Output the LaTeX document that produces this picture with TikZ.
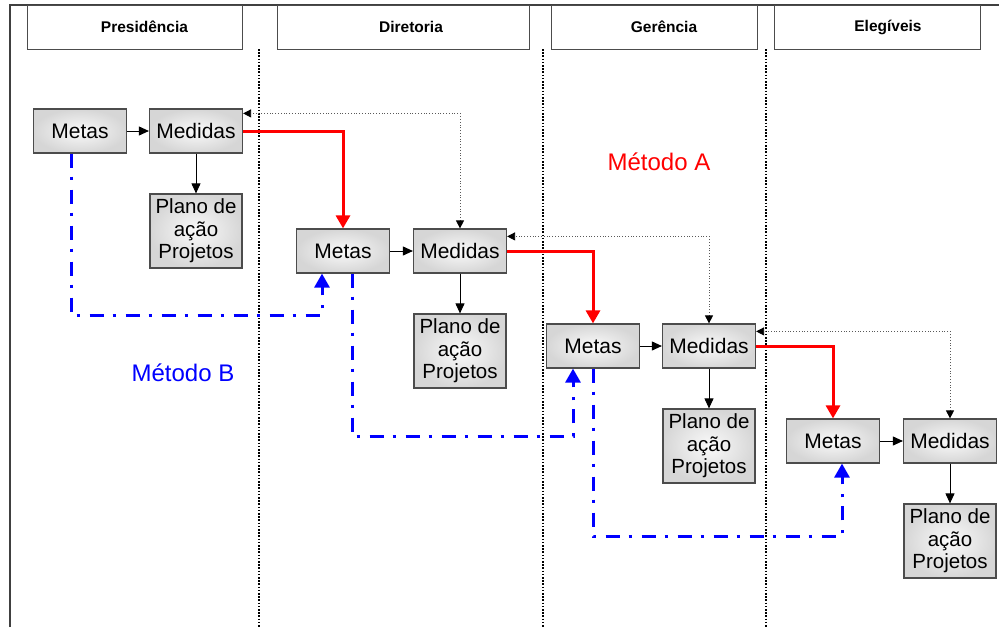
\documentclass[tikz,border=0pt]{standalone}
\usepackage{fontspec}
\setmainfont{Liberation Sans}
\usetikzlibrary{arrows.meta}
\begin{document}
\begin{tikzpicture}[x=1pt,y=-1pt,
  box/.style={draw=black!70, line width=1.2pt, shade, inner color=black!2, outer color=black!16,
    minimum height=44pt, minimum width=93pt, inner sep=0pt, font=\fontsize{21}{24}\selectfont},
  planbox/.style={box, minimum height=74pt, minimum width=92pt, align=center,
    font=\fontsize{20.5}{22.5}\selectfont},
  hdr/.style={draw=black!70, line width=0.9pt, minimum height=44pt, inner sep=0pt},
  hdrtext/.style={font=\bfseries\fontsize{15.5}{18}\selectfont},
  lane/.style={line width=1.6pt, dash pattern=on 1.6pt off 1.6pt},
  flow/.style={line width=0.9pt, -{Triangle[length=10pt,width=9pt]}},
  link/.style={black!65, line width=0.8pt, dotted,
    {Triangle[length=8pt,width=8pt,fill=black,color=black]}-{Triangle[length=8pt,width=8pt,fill=black,color=black]}},
  methA/.style={red, line width=3pt, -{Triangle[length=13pt,width=14pt]}},
  methB/.style={blue, line width=3pt, dash pattern=on 14pt off 9pt on 3.5pt off 9.5pt,
    -{Triangle[length=14pt,width=15pt]}}
]
\useasboundingbox (0,0) rectangle (999,627);

% outer frame
\draw[black!75, line width=1.2pt] (10,627) -- (10,5) -- (999,5);

% lane headers
\node[hdr, minimum width=215pt] (h1) at (134.5,27) {};
\node[hdr, minimum width=252pt] (h2) at (403,27) {};
\node[hdr, minimum width=206pt] (h3) at (654,27) {};
\node[hdr, minimum width=206pt] (h4) at (877,27) {};
\node[hdrtext] (t1) at ([xshift=10pt]h1.center) {Presidência};
\node[hdrtext] (t2) at ([xshift=8pt]h2.center) {Diretoria};
\node[hdrtext] (t3) at ([xshift=10pt]h3.center) {Gerência};
\node[hdrtext] (t4) at ([xshift=11pt]h4.center) {Elegíveis};

% lane separators
\draw[lane] (259,49) -- (259,627);
\draw[lane] (543,49) -- (543,627);
\draw[lane] (766,49) -- (766,627);

% Presidência
\node[box] (met1) at (80,131) {Metas};
\node[box] (med1) at (196,131) {Medidas};
\node[planbox] (pl1) at (196,231) {Plano de\\ação\\Projetos};
% Diretoria
\node[box] (met2) at (343,251) {Metas};
\node[box] (med2) at (460,251) {Medidas};
\node[planbox] (pl2) at (460,351) {Plano de\\ação\\Projetos};
% Gerência
\node[box] (met3) at (593,346) {Metas};
\node[box] (med3) at (709,346) {Medidas};
\node[planbox] (pl3) at (709,446) {Plano de\\ação\\Projetos};
% Elegíveis
\node[box] (met4) at (833,441) {Metas};
\node[box] (med4) at (950,441) {Medidas};
\node[planbox] (pl4) at (950,541) {Plano de\\ação\\Projetos};

% goals -> measures -> action plans
\foreach \i in {1,2,3,4} {
  \draw[flow] (met\i) -- (med\i);
  \draw[flow] (med\i) -- (pl\i);
}

% feedback links between measures
\draw[link] (med2.north) |- ([yshift=-5pt]med1.north east);
\draw[link] (med3.north) |- ([yshift=-8pt]med2.north east);
\draw[link] (med4.north) |- ([yshift=-8pt]med3.north east);

% Método A
\draw[methA] (med1.east) -| (met2.north);
\draw[methA] (med2.east) -| (met3.north);
\draw[methA] (med3.east) -| (met4.north);

% Método B
\coordinate (b1) at (200,315);
\coordinate (b2) at (460,436);
\coordinate (b3) at (700,536);
\draw[methB] ([xshift=-9pt]met1.south) |- (b1) -| ([xshift=-21pt]met2.south);
\draw[methB] ([xshift=9pt]met2.south) |- (b2) -| ([xshift=-20pt]met3.south);
\draw[methB] (met3.south) |- (b3) -| ([xshift=9pt]met4.south);

% method labels
\node[red, font=\fontsize{24}{28}\selectfont] (la) at (659,162) {Método A};
\node[blue, font=\fontsize{24}{28}\selectfont] (lb) at (183,373) {Método B};
\end{tikzpicture}
\end{document}
